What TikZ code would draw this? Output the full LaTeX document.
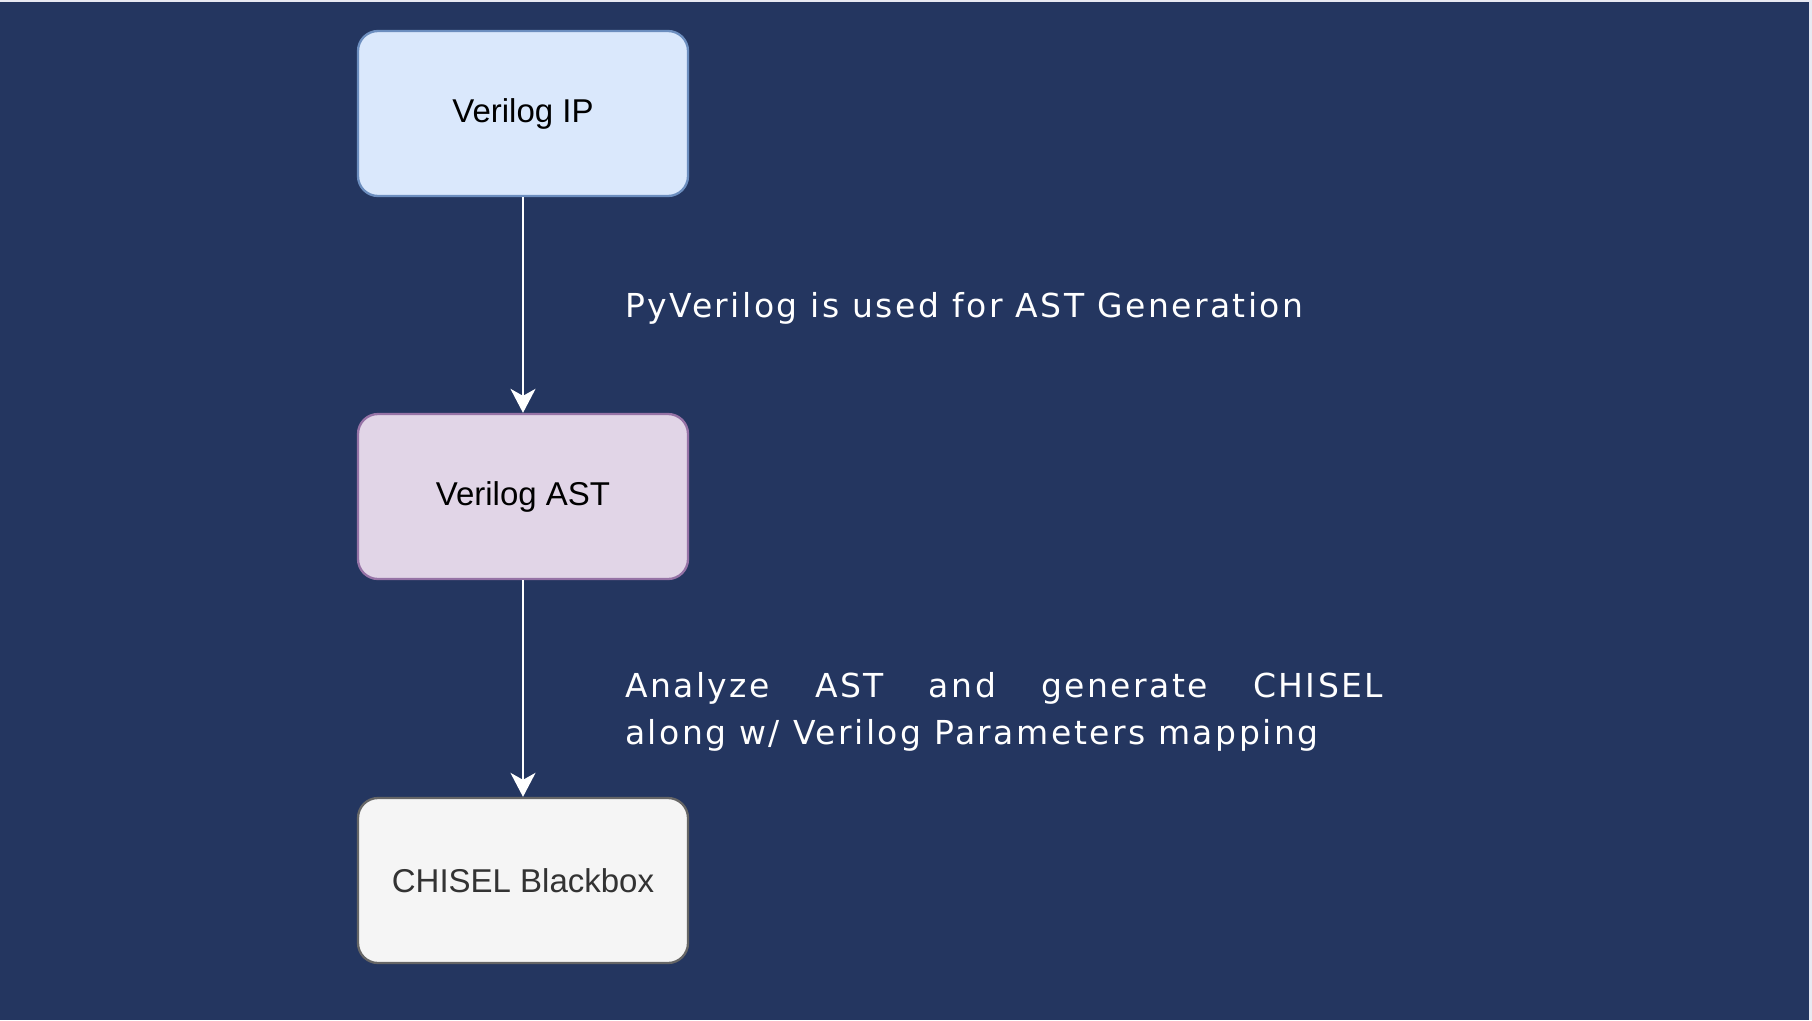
\documentclass[tikz,border=0pt]{standalone}
\usepackage{fontspec}
\setmainfont{Liberation Sans}
\newfontfamily\labelfont[LetterSpace=7.5]{DejaVu Sans}
\usetikzlibrary{arrows.meta}
\definecolor{bgnavy}{HTML}{243660}
\definecolor{bgedge}{HTML}{E8E9F2}
\definecolor{ipfill}{HTML}{DAE8FC}
\definecolor{ipdraw}{HTML}{6C8EBF}
\definecolor{astfill}{HTML}{E1D5E7}
\definecolor{astdraw}{HTML}{9673A6}
\definecolor{bbfill}{HTML}{F5F5F5}
\definecolor{bbdraw}{HTML}{666666}
\definecolor{bbtext}{HTML}{333333}
\tikzset{
  flowbox/.style={rectangle, rounded corners=20pt, minimum width=330pt, minimum height=165pt,
    line width=2.3pt, inner sep=0pt, font=\fontsize{33}{38}\selectfont},
  flowarrow/.style={draw=white, line width=2pt, -{Stealth[length=24pt,width=25pt,inset=7pt]}},
  notelabel/.style={text=white, inner sep=0pt, font=\labelfont\fontsize{33}{47.5}\selectfont}
}
\begin{document}
\begin{tikzpicture}[x=1pt,y=1pt]
  \useasboundingbox (0,0) rectangle (1812,-1020);
  \fill[bgedge] (0,0) rectangle (1812,-1020);
  \fill[bgnavy] (0,-2) rectangle (1809,-1020);

  \node[flowbox, fill=ipfill, draw=ipdraw] (ip) at (523,-113.5) {\raisebox{-2pt}{Verilog IP}};
  \node[flowbox, fill=astfill, draw=astdraw] (ast) at (523,-496.5) {\raisebox{-2pt}{Verilog AST}};
  \node[flowbox, fill=bbfill, draw=bbdraw, text=bbtext] (bb) at (523,-880.5) {CHISEL Blackbox};

  \draw[flowarrow] (ip.south) -- (ast.north);
  \draw[flowarrow] (ast.south) -- (bb.north);

  \node[notelabel, anchor=base west] (lab1) at (625,-317) {PyVerilog is used for AST Generation};
  \node[notelabel, anchor=base west] (lab2) at (625,-697)
    {\parbox[t]{758pt}{\labelfont\fontsize{33}{47.5}\selectfont Analyze AST and generate CHISEL\linebreak along w/ Verilog Parameters mapping}};
\end{tikzpicture}
\end{document}
